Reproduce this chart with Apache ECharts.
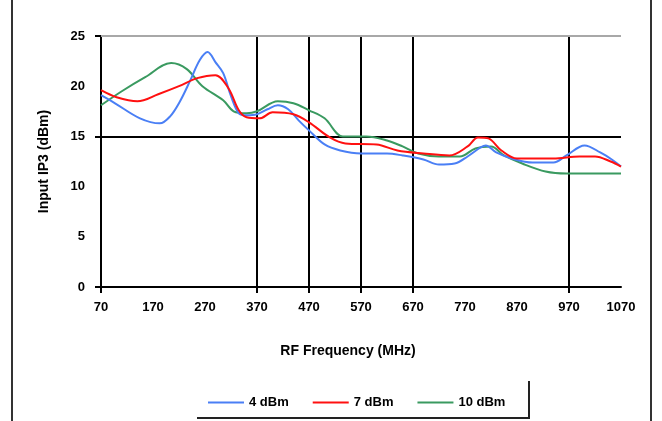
<!DOCTYPE html>
<html>
<head>
<meta charset="utf-8">
<script src="https://cdn.jsdelivr.net/npm/echarts@6/dist/echarts.min.js"></script>
<style>
html,body{margin:0;padding:0;background:#fff;}
#chart{width:662px;height:421px;}
</style>
</head>
<body>
<div id="chart"></div>
<script>
// Tick labels
var xTicks = [70, 170, 270, 370, 470, 570, 670, 770, 870, 970, 1070];
var yTicks = [0, 5, 10, 15, 20, 25];
var xGridLines = [370, 470, 570, 670, 970];
var seriesNames = ['4 dBm', '7 dBm', '10 dBm'];

// Series: [frequency MHz, IIP3 dBm]
var blue4 = [[70,19.1],[97,18.3],[145,16.8],[183,16.3],[203,17.0],[222,18.5],[241,20.5],[260,22.6],[275,23.4],[290,22.4],[305,21.3],[320,19.0],[335,17.3],[350,17.1],[370,17.2],[390,17.7],[410,18.1],[430,17.7],[450,16.6],[470,15.6],[500,14.2],[530,13.6],[570,13.3],[620,13.3],[650,13.1],[690,12.7],[720,12.2],[750,12.3],[775,13.0],[800,13.9],[810,14.1],[830,13.4],[860,12.8],[900,12.4],[940,12.4],[965,13.1],[1000,14.1],[1030,13.4],[1055,12.6],[1070,12.0]];
var red7 = [[70,19.6],[100,18.9],[140,18.5],[180,19.2],[220,20.0],[255,20.8],[290,21.1],[315,19.8],[335,17.6],[350,16.9],[375,16.8],[400,17.4],[440,17.2],[470,16.4],[510,14.9],[540,14.3],[600,14.2],[640,13.6],[690,13.3],[740,13.1],[775,14.0],[795,14.9],[815,14.8],[840,13.6],[870,12.8],[940,12.8],[990,13.0],[1020,13.0],[1050,12.5],[1070,12.0]];
var green10 = [[70,18.1],[110,19.5],[155,20.9],[205,22.3],[235,21.7],[265,20.0],[305,18.6],[325,17.5],[350,17.3],[370,17.5],[410,18.5],[440,18.3],[470,17.6],[500,16.8],[535,15.0],[580,15.0],[620,14.6],[650,14.0],[680,13.3],[720,13.0],[760,13.0],[790,13.8],[820,14.0],[845,13.1],[880,12.3],[925,11.5],[965,11.3],[1070,11.3]];

var FONT = 'Liberation Sans, Arial, sans-serif';
var chart = echarts.init(document.getElementById('chart'), null, {renderer: 'canvas'});

var refLines = xGridLines.map(function (v) { return {xAxis: v, lineStyle: {color: '#000', width: 2, type: 'solid'}}; });
refLines.push({yAxis: 15, lineStyle: {color: '#000', width: 2, type: 'solid'}});
refLines.push({yAxis: 25, lineStyle: {color: '#a8a8a8', width: 2, type: 'solid'}});

function mk(name, data, color, z, withLines) {
  var s = {
    name: name, type: 'line', data: data, smooth: 0.35, showSymbol: false,
    lineStyle: {color: color, width: 2}, itemStyle: {color: color}, z: z
  };
  if (withLines) {
    s.markLine = {silent: true, symbol: 'none', label: {show: false}, animation: false,
      lineStyle: {type: 'solid'}, data: refLines, z: 1};
  }
  return s;
}

chart.setOption({
  animation: false,
  backgroundColor: '#fff',
  grid: {left: 101, right: 41, top: 36, bottom: 134},
  title: {
    text: 'RF Frequency (MHz)', left: 343, top: 339, textAlign: 'center',
    textStyle: {fontFamily: FONT, fontWeight: 'bold', fontSize: 14, color: '#000'}
  },
  legend: {
    data: seriesNames, left: 203, top: 391, itemWidth: 36, itemHeight: 12, itemGap: 24,
    icon: 'path://M0,5 L36,5 L36,7 L0,7 Z',
    textStyle: {fontFamily: FONT, fontWeight: 'bold', fontSize: 13, color: '#000'}
  },
  xAxis: {
    type: 'value', min: 70, max: 1070,
    axisLine: {show: true, onZero: false, lineStyle: {color: '#000', width: 2}},
    axisTick: {show: true, length: 6, customValues: [70].concat(xGridLines), lineStyle: {color: '#000', width: 2}},
    axisLabel: {customValues: xTicks, margin: 14, fontFamily: FONT, fontWeight: 'bold', fontSize: 13, color: '#000',
      formatter: function (v) { return String(v); }},
    splitLine: {show: false}
  },
  yAxis: {
    type: 'value', min: 0, max: 25, interval: 5,
    name: 'Input IP3 (dBm)', nameLocation: 'middle', nameGap: 50, nameRotate: 90,
    nameTextStyle: {fontFamily: FONT, fontWeight: 'bold', fontSize: 14, color: '#000'},
    axisLine: {show: true, lineStyle: {color: '#000', width: 2}},
    axisTick: {show: true, length: 6, customValues: [0, 15, 25], lineStyle: {color: '#000', width: 2}},
    axisLabel: {customValues: yTicks, margin: 16, fontFamily: FONT, fontWeight: 'bold', fontSize: 13, color: '#000'},
    splitLine: {show: false}
  },
  graphic: [
    {type: 'line', shape: {x1: 12, y1: 0, x2: 12, y2: 421}, style: {stroke: '#333', lineWidth: 2}},
    {type: 'line', shape: {x1: 651, y1: 0, x2: 651, y2: 421}, style: {stroke: '#333', lineWidth: 2}},
    {type: 'polyline', shape: {points: [[197, 418], [529, 418], [529, 381]]}, style: {stroke: '#222', lineWidth: 2, fill: null}}
  ],
  series: [
    mk(seriesNames[0], blue4, '#4a7ff5', 3, true),
    mk(seriesNames[1], red7, '#ff1010', 4, false),
    mk(seriesNames[2], green10, '#3a9a60', 2, false)
  ]
});
</script>
</body>
</html>
